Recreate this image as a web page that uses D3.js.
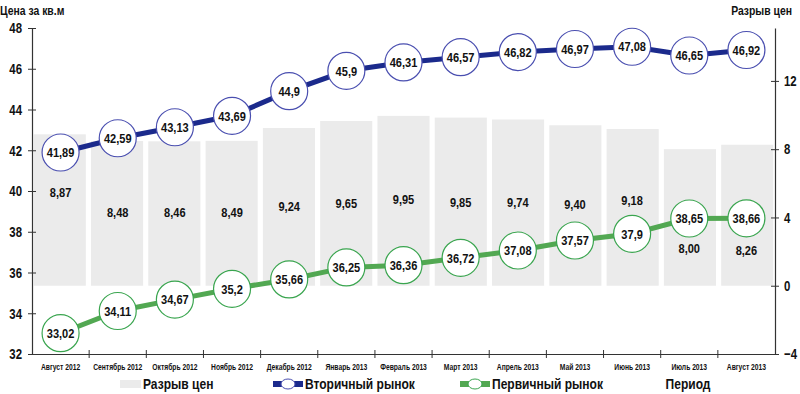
<!DOCTYPE html>
<html>
<head>
<meta charset="utf-8">
<script src="https://cdn.jsdelivr.net/npm/d3@7/dist/d3.min.js"></script>
<style>
    body { margin: 0; background: #fff; }
    svg text { font-family: "Liberation Sans", Arial, sans-serif; fill: #111; }
</style>
</head>
<body>
<div id="chart"></div>
<script>
// periods
var periods = ["Август 2012", "Сентябрь 2012", "Октябрь 2012", "Ноябрь 2012", "Декабрь 2012", "Январь 2013",
    "Февраль 2013", "Март 2013", "Апрель 2013", "Май 2013", "Июнь 2013", "Июль 2013", "Август 2013"];
// secondary market price
var secondary = [41.89, 42.59, 43.13, 43.69, 44.9, 45.9, 46.31, 46.57, 46.82, 46.97, 47.08, 46.65, 46.92];
// primary market price
var primary = [33.02, 34.11, 34.67, 35.2, 35.66, 36.25, 36.36, 36.72, 37.08, 37.57, 37.9, 38.65, 38.66];
// price gap
var gap = [8.87, 8.48, 8.46, 8.49, 9.24, 9.65, 9.95, 9.85, 9.74, 9.40, 9.18, 8.00, 8.26];

var leftTicks = [32, 34, 36, 38, 40, 42, 44, 46, 48];
var rightTicks = [-4, 0, 4, 8, 12];

// where the gap labels sit (pixel y, hand placed in the original)
var gapLabelY = [192, 212, 212, 212, 206, 203, 199, 202, 202, 204, 200, 248, 250];

var W = 800, H = 394;
var m = { left: 32, right: 25, top: 28, bottom: 40 };

var svg = d3.select("#chart").append("svg")
    .attr("width", W)
    .attr("height", H);

var x = d3.scaleBand().domain(periods).range([m.left, W - m.right]).paddingInner(0.09).paddingOuter(0.03);
var xs = d3.scaleBand().domain(periods).range([m.left, W - m.right]);
var yL = d3.scaleLinear().domain([32, 48]).range([H - m.bottom, m.top]);
var yR = d3.scaleLinear().domain([-4, 15.1]).range([H - m.bottom, m.top]);

var fmt = function (v) { return String(v).replace(".", ","); };
var fmt2 = function (v) { return v.toFixed(2).replace(".", ","); };

// squeeze text horizontally around its anchor to mimic a narrow font
function narrow(sel, k) {
    sel.each(function () {
        var tx = +(this.getAttribute("x") || 0);
        d3.select(this).attr("transform", "translate(" + (tx * (1 - k)) + ",0) scale(" + k + ",1)");
    });
}

//Bars (price gap)
svg.append("g").selectAll("rect")
    .data(gap)
    .enter().append("rect")
    .attr("x", function (d, i) { return x(periods[i]); })
    .attr("width", x.bandwidth())
    .attr("y", function (d) { return yR(d); })
    .attr("height", function (d) { return yR(0) - yR(d); })
    .attr("fill", "#ebebeb");

var gapLabels = svg.append("g").selectAll("text")
    .data(gap)
    .enter().append("text")
    .attr("x", function (d, i) { return xs(periods[i]) + xs.bandwidth() / 2; })
    .attr("y", function (d, i) { return gapLabelY[i]; })
    .attr("dy", "0.35em")
    .attr("text-anchor", "middle")
    .attr("font-size", 13.5)
    .attr("font-weight", "bold")
    .text(fmt2);
narrow(gapLabels, 0.82);

//Axes
var axL = svg.append("g")
    .attr("transform", "translate(" + m.left + ",0)")
    .call(d3.axisLeft(yL).tickValues(leftTicks).tickSize(0).tickPadding(10));
axL.selectAll(".tick line").attr("x1", -4).attr("x2", 4).attr("stroke", "#333");

var axR = svg.append("g")
    .attr("transform", "translate(" + (W - m.right) + ",0)")
    .call(d3.axisRight(yR).tickValues(rightTicks).tickSize(0).tickPadding(9));
axR.selectAll(".tick line").attr("x1", -4).attr("x2", 4).attr("stroke", "#333");

var axB = svg.append("g")
    .attr("transform", "translate(0," + (H - m.bottom) + ")")
    .call(d3.axisBottom(xs).tickSize(0).tickPadding(9));

[axL, axR, axB].forEach(function (a) {
    a.select(".domain").attr("stroke", "#333").attr("stroke-width", 1.2);
    a.selectAll("text").attr("font-weight", "bold").attr("fill", "#111");
});
axL.selectAll("text").attr("font-size", 15);
axR.selectAll("text").attr("font-size", 15);
axB.selectAll("text").attr("font-size", 9.5);
narrow(axL.selectAll("text"), 0.76);
narrow(axR.selectAll("text"), 0.76);
narrow(axB.selectAll("text"), 0.71);

//Category separators on the x axis
svg.append("g").selectAll("line")
    .data(periods.slice(1))
    .enter().append("line")
    .attr("x1", function (d) { return xs(d); })
    .attr("x2", function (d) { return xs(d); })
    .attr("y1", H - m.bottom - 4)
    .attr("y2", H - m.bottom + 4)
    .attr("stroke", "#333");

//Lines
function drawSeries(values, lineColor, ringColor) {
    var line = d3.line()
        .x(function (d, i) { return xs(periods[i]) + xs.bandwidth() / 2; })
        .y(function (d) { return yL(d); });

    svg.append("path")
        .datum(values)
        .attr("d", line)
        .attr("fill", "none")
        .attr("stroke", lineColor)
        .attr("stroke-width", 5);

    var g = svg.append("g").selectAll("g")
        .data(values)
        .enter().append("g")
        .attr("transform", function (d, i) {
            return "translate(" + (xs(periods[i]) + xs.bandwidth() / 2) + "," + yL(d) + ")";
        });

    g.append("circle")
        .attr("r", 18.5)
        .attr("fill", "#fff")
        .attr("stroke", ringColor)
        .attr("stroke-width", 1.2);

    var t = g.append("text")
        .attr("text-anchor", "middle")
        .attr("dy", "0.35em")
        .attr("font-size", 13.5)
        .attr("font-weight", "bold")
        .text(fmt);
    narrow(t, 0.82);
}

drawSeries(secondary, "#1b2a8c", "#4a4fb0");
drawSeries(primary, "#52a852", "#3aa54f");

//Titles
var t1 = svg.append("text")
    .attr("x", 0).attr("y", 15)
    .attr("font-size", 13).attr("font-weight", "bold")
    .text("Цена за кв.м");
narrow(t1, 0.8);

var t2 = svg.append("text")
    .attr("x", 792).attr("y", 15)
    .attr("text-anchor", "end")
    .attr("font-size", 13).attr("font-weight", "bold")
    .text("Разрыв цен");
narrow(t2, 0.8);

//Legend
var leg = svg.append("g").attr("transform", "translate(0,384)");

leg.append("rect").attr("x", 120).attr("y", -4).attr("width", 21).attr("height", 8).attr("fill", "#ebebeb");
leg.append("text").attr("x", 143).attr("dy", "0.35em").attr("font-size", 14).attr("font-weight", "bold").text("Разрыв цен");

function legendLine(x0, lineColor, ringColor, label) {
    leg.append("line").attr("x1", x0).attr("x2", x0 + 30).attr("y1", 0).attr("y2", 0)
        .attr("stroke", lineColor).attr("stroke-width", 6);
    leg.append("ellipse").attr("cx", x0 + 15).attr("cy", 0).attr("rx", 7).attr("ry", 5)
        .attr("fill", "#fff").attr("stroke", ringColor).attr("stroke-width", 1);
    leg.append("text").attr("x", x0 + 32).attr("dy", "0.35em").attr("font-size", 14).attr("font-weight", "bold").text(label);
}
legendLine(273, "#1b2a8c", "#4a4fb0", "Вторичный рынок");
legendLine(460, "#52a852", "#3aa54f", "Первичный рынок");

leg.append("text").attr("x", 688).attr("dy", "0.35em").attr("text-anchor", "middle")
    .attr("font-size", 14).attr("font-weight", "bold").text("Период");

narrow(leg.selectAll("text"), 0.86);
</script>
</body>
</html>
